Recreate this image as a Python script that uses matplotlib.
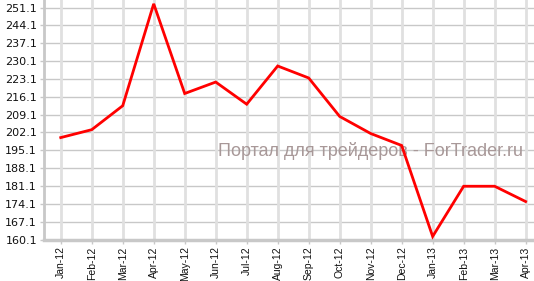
import matplotlib
matplotlib.use("Agg")
import matplotlib.pyplot as plt
import numpy as np

months = ["Jan-12", "Feb-12", "Mar-12", "Apr-12", "May-12", "Jun-12", "Jul-12",
          "Aug-12", "Sep-12", "Oct-12", "Nov-12", "Dec-12", "Jan-13", "Feb-13",
          "Mar-13", "Apr-13"]
values = [200.1, 203.2, 212.6, 252.6, 217.4, 221.9, 213.2, 228.2, 223.5,
          208.4, 201.7, 197.0, 161.3, 181.0, 181.0, 175.0]
yticks = [160.1, 167.1, 174.1, 181.1, 188.1, 195.1, 202.1, 209.1, 216.1,
          223.1, 230.1, 237.1, 244.1, 251.1]
watermark = "Портал для трейдеров - ForTrader.ru"

W, H = 534, 281
fig = plt.figure(figsize=(W / 100, H / 100), dpi=100)
ax = fig.add_axes([44 / W, 41.5 / H, 1 - 44 / W, 1 - 41.5 / H])

x = np.arange(len(months))
ax.plot(x, values, color="#ff0000", lw=2, zorder=3, solid_joinstyle="miter")

ax.set_xlim(-0.54, 15.27)
ax.set_ylim(160.1, 254.1)
ax.set_yticks(yticks)
ax.set_yticklabels([f"{v:.1f}" for v in yticks], fontsize=8, color="#111111",
                   family="DejaVu Sans")
ax.set_xticks(x)
ax.set_xticklabels(months, rotation=90, fontsize=7.5, family="Liberation Sans",
                   color="#111111")

for v in yticks:
    ax.axhline(v, color="#c8c8c8", lw=1, zorder=1)
for xi in x:
    ax.axvline(xi, color="#e0e0e0", lw=2, zorder=1)

for s in ["top", "right"]:
    ax.spines[s].set_visible(False)
ax.spines["left"].set_color("#c8c8c8")
ax.spines["left"].set_linewidth(2)
ax.spines["bottom"].set_color("#c8c8c8")
ax.spines["bottom"].set_linewidth(2.5)
ax.tick_params(axis="y", length=3, width=1, color="#c8c8c8", pad=2)
ax.tick_params(axis="x", length=3, width=1, color="#c8c8c8", pad=2)

ax.text(218 / W, 1 - 151 / H, watermark, fontsize=13, family="Liberation Sans",
        color="#a89898", ha="left", va="center", zorder=2,
        transform=fig.transFigure)

fig.savefig("out.png", dpi=100)
